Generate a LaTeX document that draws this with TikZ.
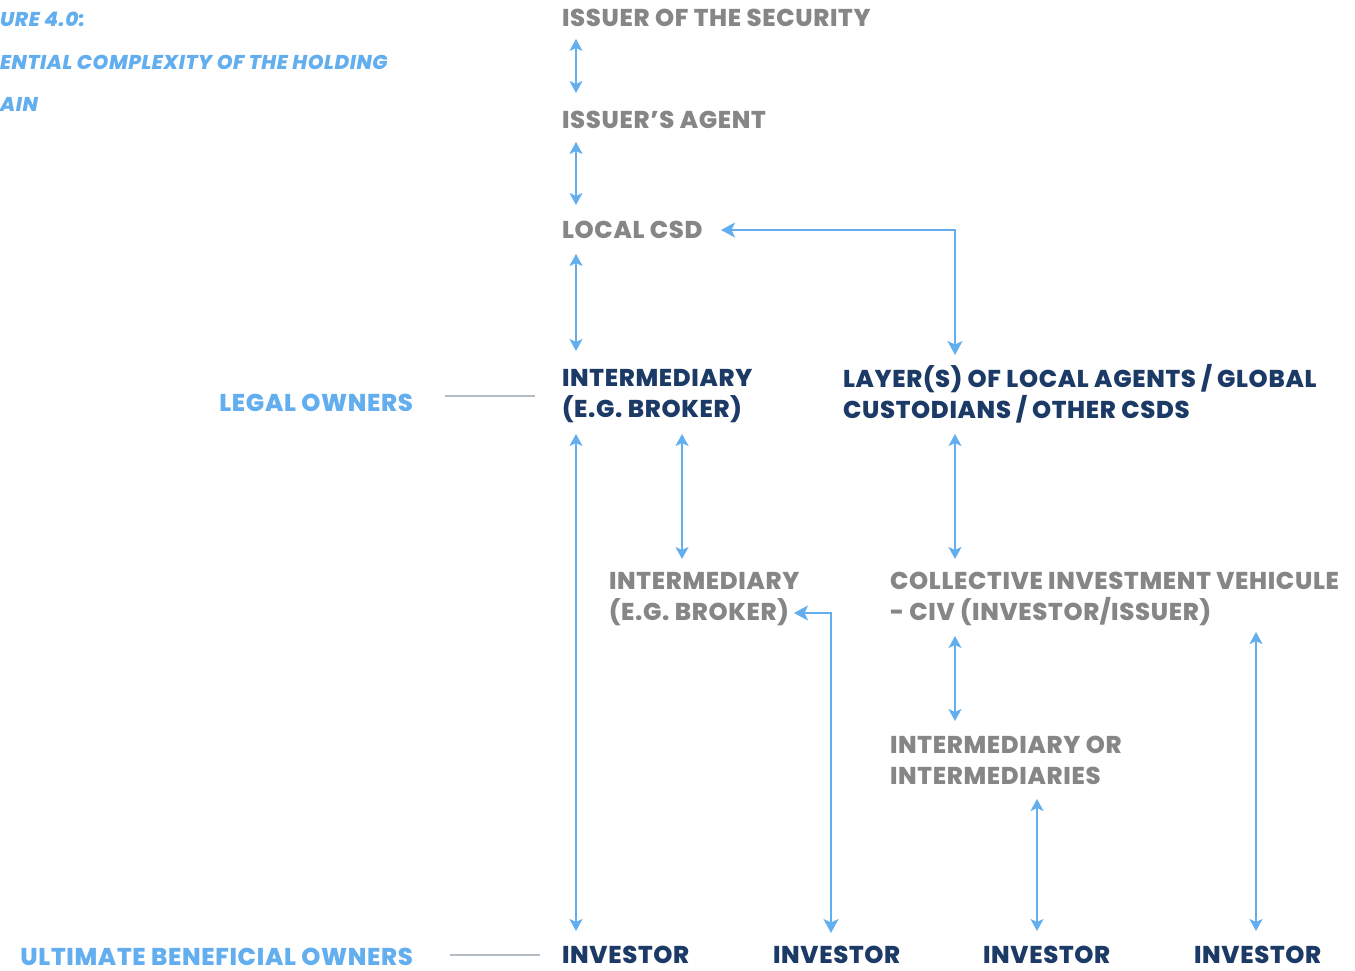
\documentclass[tikz,border=0pt]{standalone}
\usepackage{fontspec}
\setmainfont{Poppins}[BoldFont={* ExtraBold},BoldItalicFont={* ExtraBold Italic},LetterSpace=2.8]
\usetikzlibrary{arrows.meta,calc}
\definecolor{skyblue}{HTML}{62AEEE}
\definecolor{navy}{HTML}{1C3A66}
\definecolor{greytext}{HTML}{868686}
\definecolor{rulegrey}{HTML}{B4BCC4}
\begin{document}
\begin{tikzpicture}[x=1pt,y=-1pt,
  lbl/.style={inner sep=0pt,outer sep=0pt,anchor=base west,align=left,
    font=\fontsize{24.3}{31}\selectfont\bfseries},
  grey/.style={lbl,text=greytext},
  dark/.style={lbl,text=navy},
  side/.style={lbl,text=skyblue},
  title/.style={inner sep=0pt,anchor=base west,text=skyblue,
    font=\fontsize{20}{22}\selectfont\bfseries\itshape},
  link/.style={draw=skyblue,line width=1.9pt,
    {Stealth[length=12pt,width=13pt,inset=3pt]}-{Stealth[length=12pt,width=13pt,inset=3pt]}},
  bend link/.style={draw=skyblue,line width=1.9pt,
    {Stealth[length=14pt,width=15pt,inset=3.5pt]}-{Stealth[length=14pt,width=15pt,inset=3.5pt]}},
  tie/.style={draw=rulegrey,line width=1.2pt}]
\useasboundingbox (0,0) rectangle (1355,970);

% heading, running off the left edge
\node[title] (t1) at (0,26) {URE 4.0:};
\node[title] (t2) at (0,69) {ENTIAL COMPLEXITY OF THE HOLDING};
\node[title] (t3) at (0,111) {AIN};

% holding chain (two-line labels sit on their last baseline)
\node[grey] (issuer) at (562,26) {ISSUER OF THE SECURITY};
\node[grey] (agent) at (562,128) {ISSUER'S AGENT};
\node[grey] (csd) at (562,238) {LOCAL CSD};
\node[dark] (inter) at (562,417) {INTERMEDIARY\\(E.G. BROKER)};
\node[dark] (layers) at (843,418) {LAYER(S) OF LOCAL AGENTS / GLOBAL\\CUSTODIANS / OTHER CSDS};
\node[grey] (inter2) at (609,620) {INTERMEDIARY\\(E.G. BROKER)};
\node[grey] (civ) at (890,620) {COLLECTIVE INVESTMENT VEHICULE\\- CIV (INVESTOR/ISSUER)};
\node[grey] (inters) at (890,784) {INTERMEDIARY OR\\INTERMEDIARIES};
\node[dark] (inv1) at (562,963) {INVESTOR};
\node[dark] (inv2) at (773,963) {INVESTOR};
\node[dark] (inv3) at (983,963) {INVESTOR};
\node[dark] (inv4) at (1194,963) {INVESTOR};

% owner categories
\node[side,anchor=base east] (legal) at (413,411) {LEGAL OWNERS};
\node[side,anchor=base east] (ubo) at (413,965) {ULTIMATE BENEFICIAL OWNERS};
\draw[tie] ($(legal.base east)+(32,-15)$) -- ($(inter.base west)+(-27,-21)$);
\draw[tie] ($(ubo.base east)+(37,-10)$) -- ($(inv1.base west)+(-22,-8)$);

% connectors
\draw[link] ($(issuer.base west)+(14,13)$) -- ($(agent.base west)+(14,-35)$);
\draw[link] ($(agent.base west)+(14,14)$) -- ($(csd.base west)+(14,-33)$);
\draw[link] ($(csd.base west)+(14,16)$) -- ($(inter.base west)+(14,-66)$);
\draw[bend link] ($(csd.base west)+(159,-8)$) -| ($(layers.base west)+(112,-63)$);
\draw[link] ($(inter.base west)+(14,17)$) -- ($(inv1.base west)+(14,-32)$);
\draw[link] ($(inter.base west)+(120,17)$) -- ($(inter2.base west)+(73,-61)$);
\draw[link] ($(layers.base west)+(112,16)$) -- ($(civ.base west)+(65,-61)$);
\draw[bend link] ($(inter2.base west)+(185,-7)$) -| ($(inv2.base west)+(58,-30)$);
\draw[link] ($(civ.base west)+(65,16)$) -- ($(inters.base west)+(65,-63)$);
\draw[link] ($(inters.base west)+(147,15)$) -- ($(inv3.base west)+(54,-32)$);
\draw[link] ($(civ.base west)+(366,12)$) -- ($(inv4.base west)+(62,-32)$);
\end{tikzpicture}
\end{document}
